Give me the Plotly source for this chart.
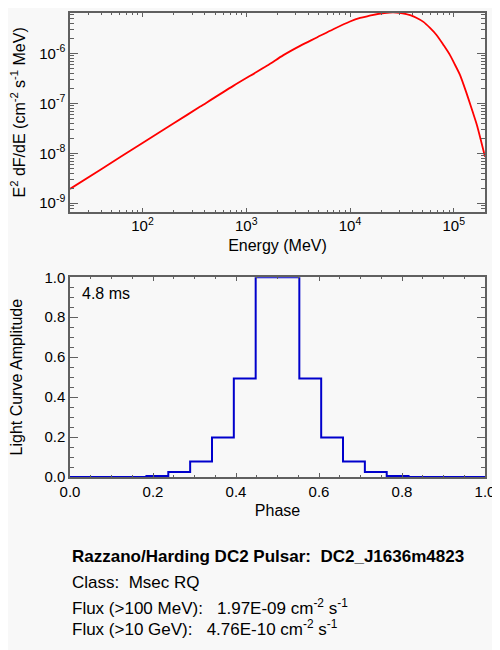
import plotly.graph_objects as go
from plotly.subplots import make_subplots

# Spectrum (MeV, E^2 dF/dE)
energy = [20, 40, 100, 200, 360, 750, 1580, 2280, 3300, 4790, 6900,
          1.0e4, 1.25e4, 1.55e4, 1.9e4, 2.4e4, 2.8e4, 3.2e4, 3.8e4, 4.4e4, 5.1e4,
          5.9e4, 6.85e4, 7.95e4, 9.2e4, 1.0e5, 1.15e5, 1.26e5, 1.38e5, 1.51e5, 1.67e5,
          1.82e5, 2.0e5]
e2dfde = [1.93e-9, 4.81e-9, 1.61e-8, 3.98e-8, 8.61e-8, 2.24e-7, 5.65e-7, 9.25e-7, 1.42e-6, 2.09e-6, 3.06e-6,
          4.37e-6, 5.15e-6, 5.69e-6, 6.24e-6, 6.6e-6, 6.6e-6, 6.38e-6, 5.83e-6, 5.13e-6, 4.29e-6,
          3.24e-6, 2.32e-6, 1.48e-6, 9.25e-7, 6.6e-7, 3.68e-7, 2.19e-7, 1.26e-7, 7.08e-8, 3.68e-8,
          1.86e-8, 8.5e-9]

# Light curve bins (bin centres)
phase = [0.0, 0.0526, 0.1053, 0.1579, 0.2105, 0.2632, 0.3158, 0.3684, 0.4211, 0.4737,
         0.5263, 0.5789, 0.6316, 0.6842, 0.7368, 0.7895, 0.8421, 0.8947, 0.9474, 1.0]
amplitude = [0, 0, 0, 0, 0.005, 0.025, 0.078, 0.198, 0.493, 1.0,
             1.0, 0.493, 0.198, 0.078, 0.025, 0.005, 0, 0, 0, 0]

energy_ticks = [1e2, 1e3, 1e4, 1e5]
energy_labels = ["10<sup>2</sup>", "10<sup>3</sup>", "10<sup>4</sup>", "10<sup>5</sup>"]
flux_ticks = [1e-9, 1e-8, 1e-7, 1e-6]
flux_labels = ["10<sup>-9</sup>", "10<sup>-8</sup>", "10<sup>-7</sup>", "10<sup>-6</sup>"]
phase_ticks = [0.0, 0.2, 0.4, 0.6, 0.8, 1.0]
amp_ticks = [0.0, 0.2, 0.4, 0.6, 0.8, 1.0]

info_lines = [
    "<b>Razzano/Harding DC2 Pulsar:\u00a0\u00a0DC2_J1636m4823</b>",
    "Class:\u00a0\u00a0Msec RQ",
    "Flux (>100 MeV):\u00a0\u00a0\u00a01.97E-09 cm<sup>-2</sup> s<sup>-1</sup>",
    "Flux (>10 GeV):\u00a0\u00a0\u00a04.76E-10 cm<sup>-2</sup> s<sup>-1</sup>",
]
info_y = [556.7, 582.3, 607.3, 628.3]

BG = "#f8f8f8"
FRAME = "#606060"
FONT = "Liberation Sans, Arial, sans-serif"
TICKFONT = dict(size=15, color="black")
TITLEFONT = dict(size=16, color="black")

fig = make_subplots(rows=2, cols=1)

fig.add_trace(go.Scatter(x=energy, y=e2dfde, mode="lines",
                         line=dict(color="#ff0000", width=1.8, shape="spline", smoothing=0.8),
                         showlegend=False), row=1, col=1)
fig.add_trace(go.Scatter(x=phase, y=amplitude, mode="lines",
                         line=dict(color="#0000cc", width=2, shape="hvh"),
                         showlegend=False), row=2, col=1)

axis_common = dict(showline=True, linecolor=FRAME, linewidth=1.5, mirror="allticks",
                   ticks="inside", tickcolor=FRAME, showgrid=False, zeroline=False,
                   tickfont=TICKFONT, automargin=False)

# top panel axes
fig.update_xaxes(type="log", range=[1.301, 5.301], tickvals=energy_ticks, ticktext=energy_labels,
                 ticklen=4, minor=dict(ticks="inside", ticklen=2, dtick="D1", tickcolor=FRAME),
                 title=dict(text="Energy (MeV)", font=TITLEFONT, standoff=6),
                 row=1, col=1, **axis_common)
fig.update_yaxes(type="log", range=[-9.17, -5.19], tickvals=flux_ticks, ticktext=flux_labels,
                 ticklen=8, minor=dict(ticks="inside", ticklen=4, dtick="D1", tickcolor=FRAME),
                 title=dict(text="E<sup>2</sup> dF/dE (cm<sup>-2</sup> s<sup>-1</sup> MeV)",
                            font=TITLEFONT, standoff=18),
                 domain=[0.5718, 1.0], row=1, col=1, **axis_common)

# bottom panel axes
fig.update_xaxes(range=[0, 1], tickvals=phase_ticks, tickformat=".1f",
                 ticklen=4, minor=dict(ticks="inside", ticklen=2, dtick=0.05, tickcolor=FRAME),
                 title=dict(text="Phase", font=TITLEFONT, standoff=6),
                 row=2, col=1, **axis_common)
fig.update_yaxes(range=[0, 1.0], tickvals=amp_ticks, tickformat=".1f",
                 ticklen=8, minor=dict(ticks="inside", ticklen=4, dtick=0.05, tickcolor=FRAME),
                 title=dict(text="Light Curve Amplitude", font=TITLEFONT, standoff=20),
                 domain=[0.0, 0.4304], row=2, col=1, **axis_common)

fig.add_annotation(text="4.8 ms", x=0.024, y=0.92, xref="x2 domain", yref="y2 domain",
                   xanchor="left", yanchor="middle", showarrow=False, font=TITLEFONT)

# info text under the plots (page pixel y -> paper coords; plot bottom sits at 477 px)
for line, ypx in zip(info_lines, info_y):
    fig.add_annotation(text=line, x=0.0, y=(477 - ypx) / 464, xref="paper", yref="paper",
                       xanchor="left", yanchor="middle", showarrow=False,
                       font=dict(size=17, color="black"))

# page body adds an 8 px margin, so the figure is shrunk/shifted to line up with the reference
fig.update_layout(width=492, height=642, margin=dict(l=62, r=15, t=5, b=173),
                  paper_bgcolor=BG, plot_bgcolor=BG, font=dict(family=FONT, size=15, color="black"),
                  showlegend=False)

fig.write_html("out.html")
